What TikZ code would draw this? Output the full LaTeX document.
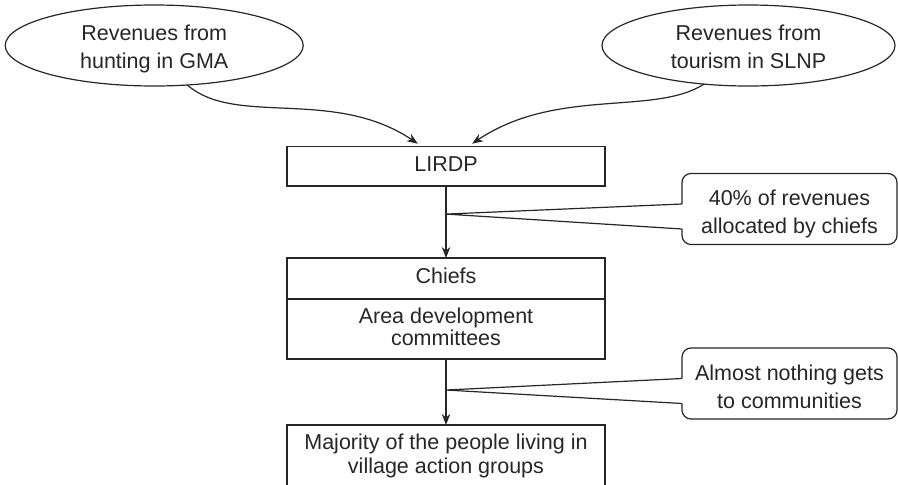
\documentclass[tikz,border=0pt]{standalone}
\usepackage{fontspec}
\setmainfont{Liberation Sans}
\usetikzlibrary{shapes.geometric,arrows.meta,calc}

% invisible struts that fix the height above the first baseline
% and the depth below the last one
\newcommand{\padtop}[1]{\rule{0pt}{#1}}
\newcommand{\padbot}{\rule[-5pt]{0pt}{5pt}}
\definecolor{ink}{HTML}{262626}

\begin{document}
\begin{tikzpicture}[x=1pt,y=-1pt,
  ink line/.style={draw=ink, line width=1.2pt},
  txt/.style={font=\fontsize{21.5}{#1}\selectfont},
  txt/.default=24,
  source/.style={ellipse, ink line, inner sep=0pt, outer sep=0pt,
    minimum height=81pt, align=center, text=ink},
  stage/.style={rectangle, ink line, inner sep=0pt, outer sep=0pt,
    minimum width=318pt, align=center, text=ink},
  note/.style={rectangle, rounded corners=9pt, ink line, fill=white,
    inner sep=0pt, outer sep=0pt, minimum width=215pt, minimum height=71pt,
    align=center, text=ink},
  flow/.style={ink line, -{Stealth[length=11pt,width=8.5pt,inset=3.5pt]}},
  pointer/.style={ink line, line join=miter},
]
\useasboundingbox (0,0) rectangle (898,485);
\clip (0,0) rectangle (898,485);

% revenue sources
\node[source, minimum width=298pt, txt=28] (hunting) at (154.2,45.5)
  {\padtop{23.7pt}Revenues from\\hunting in GMA\padbot};
\node[source, minimum width=293pt, txt=28] (tourism) at (748.5,45.5)
  {\padtop{23.4pt}Revenues from\\tourism in SLNP\padbot};

% chain of distribution
\node[stage, minimum height=39.5pt, txt] (lirdp) at (446,166.25)
  {\padtop{16pt}LIRDP\padbot};
\node[stage, minimum height=40.5pt, txt] (chiefs) at (446,278.25)
  {\padtop{14.5pt}Chiefs\padbot};
\node[stage, minimum height=59.5pt, txt=21.5] (committees) at (446,329.25)
  {\padtop{13.5pt}Area development\\committees\padbot};
\node[stage, minimum height=62pt, txt=24] (majority) at (446,456)
  {\padtop{15pt}Majority of the people living in\\village action groups\padbot};

% remarks
\node[note, txt=27.5] (noteA) at (789.5,209)
  {\padtop{26pt}40\% of revenues\\allocated by chiefs\padbot};
\node[note, txt=27.5] (noteB) at (789.5,383.5)
  {\padtop{27pt}Almost nothing gets\\to communities\padbot};

% points on the flow lines where the remarks attach
\coordinate (tipA) at ($(lirdp.south)!0.39!(chiefs.north)$);
\coordinate (tipB) at ($(committees.south)!0.47!(majority.north)$);

% speech-bubble wedges
\fill[white] ($(noteA.west)+(1.5,-5)$) -- (tipA) -- ($(noteA.west)+(1.5,20)$) -- cycle;
\draw[pointer] ($(noteA.west)+(0,-5)$) -- (tipA) -- ($(noteA.west)+(0,20)$);
\fill[white] ($(noteB.west)+(1.5,-5)$) -- (tipB) -- ($(noteB.west)+(1.5,20)$) -- cycle;
\draw[pointer] ($(noteB.west)+(0,-5)$) -- (tipB) -- ($(noteB.west)+(0,20)$);

% flows
\draw[flow, shorten >=5pt] (hunting.-50.6)
  .. controls +(48,42) and +(-88.5,-59.5) .. ($(lirdp.north)+(-24,0)$);
\draw[flow, shorten >=5pt] (tourism.-139.6)
  .. controls +(-50,32) and +(88.5,-59.5) .. ($(lirdp.north)+(22,0)$);
\draw[flow] (lirdp.south) -- (chiefs.north);
\draw[flow] (committees.south) -- (majority.north);
\end{tikzpicture}
\end{document}
